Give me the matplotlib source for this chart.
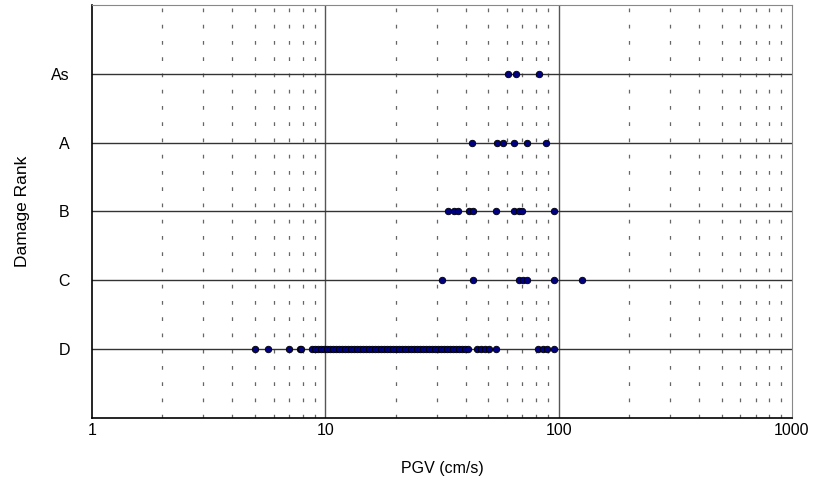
import matplotlib
matplotlib.use('Agg')
import matplotlib.pyplot as plt
import numpy as np

plt.rcParams['font.family'] = ['Liberation Sans', 'DejaVu Sans']

# damage ranks (bottom to top) and observed PGV values (cm/s)
ranks = ['D', 'C', 'B', 'A', 'As']
rank_pos = [1, 2, 3, 4, 5]

pgv_d = [5.0, 5.7, 7.0, 7.8, 7.9, 8.8, 9.0, 9.3, 9.6, 9.9, 10.2, 10.5, 10.8, 11.1,
         11.5, 11.8, 12.2, 12.5, 12.9, 13.3, 13.7, 14.1, 14.5, 14.9, 15.4, 15.9,
         16.3, 16.8, 17.3, 17.8, 18.4, 18.9, 19.5, 20.1, 20.7, 21.3, 22.0, 22.6,
         23.3, 24.0, 24.7, 25.5, 26.2, 27.0, 27.8, 28.7, 29.5, 30.4, 31.3, 32.3,
         33.2, 34.2, 35.3, 36.3, 37.4, 38.5, 39.7, 40.9, 44.6, 46.5, 48.4, 50.3,
         53.7, 81.8, 86.0, 88.9, 95.9]
pgv_c = [31.5, 42.8, 67.9, 70.2, 73.0, 95.9, 125.6]
pgv_b = [33.5, 35.7, 37.2, 41.4, 42.8, 53.7, 64.4, 67.6, 69.9, 95.9]
pgv_a = [42.4, 54.3, 57.6, 64.4, 73.0, 88.1]
pgv_as = [60.9, 65.5, 82.7]

xticks = [1, 10, 100, 1000]
xtick_labels = ['1', '10', '100', '1000']

fig = plt.figure(figsize=(8.19, 5.01), dpi=100)
ax = fig.add_axes([0.1123, 0.166, 0.8547, 0.824])

ax.set_xscale('log')
ax.set_xlim(1, 1000)
ax.set_ylim(0, 6)

# minor dashed verticals
minors = [m * d for d in [1, 10, 100] for m in range(2, 10)]
for v in minors:
    ax.axvline(v, color='#666666', lw=0.9, linestyle=(0, (3, 10)), zorder=1)
for v in [10, 100]:
    ax.axvline(v, color='#555555', lw=1, zorder=1)
for y in rank_pos:
    ax.axhline(y, color='#333333', lw=1, zorder=1)

for vals, y in zip([pgv_d, pgv_c, pgv_b, pgv_a, pgv_as], rank_pos):
    ax.scatter(vals, [y] * len(vals), s=22, color='#000080', edgecolor='black',
               linewidths=0.6, zorder=3)

ax.set_xticks(xticks)
ax.set_xticklabels(xtick_labels, fontsize=11.5)
ax.xaxis.set_minor_locator(matplotlib.ticker.NullLocator())
ax.set_yticks(rank_pos)
ax.set_yticklabels(ranks, fontsize=11.5)
ax.tick_params(axis='x', length=0, pad=4)
ax.tick_params(axis='y', length=0, pad=16)

ax.set_xlabel('PGV (cm/s)', fontsize=11.5, labelpad=16)
ax.set_ylabel('Damage Rank', fontsize=12.5, labelpad=15)

for s in ['top', 'right']:
    ax.spines[s].set_color('#888888')
for s in ['left', 'bottom']:
    ax.spines[s].set_color('black')
    ax.spines[s].set_linewidth(1.2)

fig.savefig('out.png', dpi=100)
